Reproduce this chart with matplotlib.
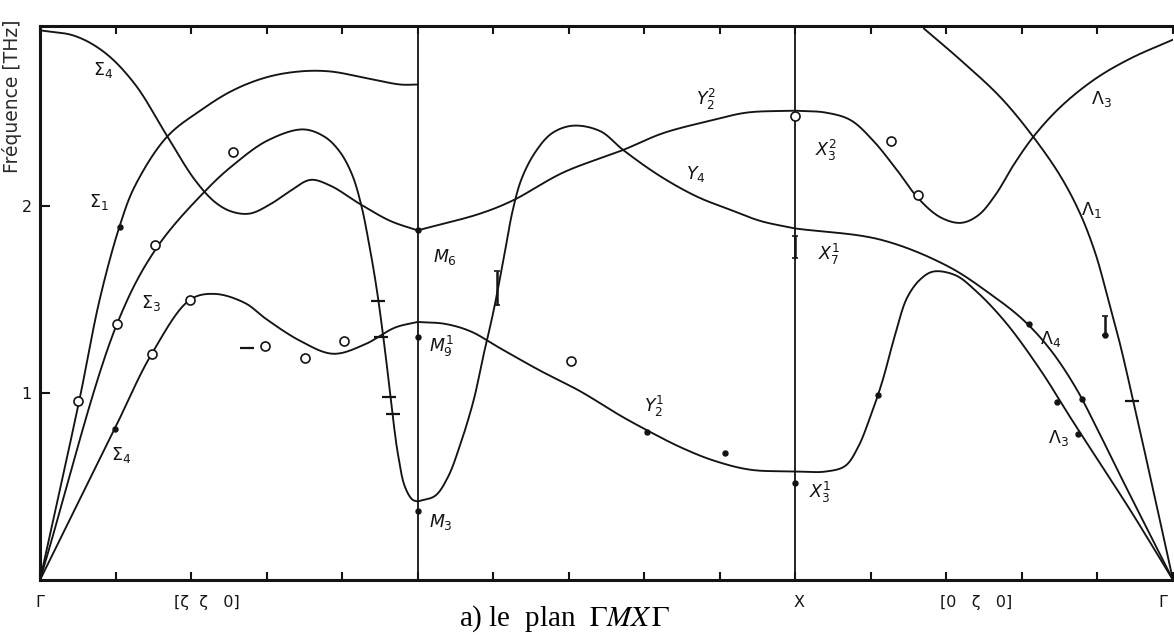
import numpy as np
import matplotlib
matplotlib.use("Agg")
import matplotlib.pyplot as plt

plt.rcParams["font.family"] = ["DejaVu Sans"]
plt.rcParams["mathtext.fontset"] = "dejavusans"

# Reduced wave-vector coordinate along the path: Γ=0, M=5, X=10, Γ=15
path_ticks = list(range(0, 16))
sym_points = [5, 10]

# ---- dispersion branches (q, frequency in THz) ----
# Γ -> M  ([ζ ζ 0])
sigma4_top_q = [0, 0.46, 0.86, 1.26, 1.66, 2.05, 2.32, 2.54, 2.78, 3.05, 3.31, 3.58, 3.84, 4.24, 4.64, 5.0]
sigma4_top_f = [2.94, 2.91, 2.82, 2.65, 2.39, 2.14, 2.02, 1.97, 1.96, 2.01, 2.08, 2.14, 2.11, 2.01, 1.92, 1.87]

sigma1_q = [0, 0.52, 0.79, 1.06, 1.26, 1.68, 2.12, 2.56, 3.01, 3.44, 3.84, 4.37, 4.77, 5.0]
sigma1_f = [0, 0.96, 1.50, 1.90, 2.11, 2.37, 2.51, 2.62, 2.69, 2.72, 2.72, 2.68, 2.65, 2.65]

sigma3_q = [0, 1.02, 1.55, 2.21, 2.56, 3.01, 3.48, 3.77, 3.97, 4.13, 4.25, 4.36, 4.46,
            4.57, 4.66, 4.74, 4.83, 4.93, 5.0]
sigma3_f = [0, 1.37, 1.78, 2.09, 2.22, 2.35, 2.41, 2.37, 2.29, 2.17, 2.01, 1.79, 1.55,
            1.22, 0.91, 0.67, 0.50, 0.43, 0.42]

sigma4_low_q = [0, 0.99, 1.48, 1.99, 2.32, 2.72, 2.98, 3.44, 3.88, 4.30, 4.70, 5.0]
sigma4_low_f = [0, 0.81, 1.21, 1.50, 1.53, 1.48, 1.40, 1.28, 1.21, 1.26, 1.35, 1.38]

# M -> X
y22_q = [5.0, 5.83, 6.26, 6.93, 7.72, 8.25, 8.91, 9.36, 10.0]
y22_f = [1.87, 1.96, 2.03, 2.18, 2.30, 2.39, 2.46, 2.50, 2.51]

y4_q = [5.0, 5.23, 5.40, 5.56, 5.74, 5.87, 6.00, 6.13, 6.26, 6.38, 6.56, 6.78, 7.06,
        7.42, 7.72, 8.21, 8.70, 9.14, 9.54, 10.0]
y4_f = [0.42, 0.45, 0.55, 0.72, 0.96, 1.20, 1.43, 1.70, 1.98, 2.15, 2.29, 2.39, 2.43,
        2.40, 2.30, 2.16, 2.05, 1.98, 1.92, 1.88]

y21_q = [5.0, 5.36, 5.70, 6.09, 6.62, 7.15, 7.68, 8.04, 8.48, 8.91, 9.40, 10.0]
y21_f = [1.38, 1.37, 1.33, 1.24, 1.12, 1.01, 0.88, 0.80, 0.71, 0.64, 0.59, 0.58]

# X -> Γ  ([0 ζ 0])
x32_q = [10.0, 10.40, 10.73, 11.03, 11.35, 11.63, 11.92, 12.19, 12.42, 12.65, 12.89, 13.15,
         13.51, 13.97, 14.44, 15.0]
x32_f = [2.51, 2.50, 2.46, 2.35, 2.19, 2.04, 1.94, 1.91, 1.95, 2.06, 2.22, 2.37,
         2.53, 2.68, 2.79, 2.89]

lam1_q = [11.70, 12.19, 12.72, 13.15, 13.51, 13.77, 13.97, 14.13, 14.30, 14.50, 14.70, 15.0]
lam1_f = [2.95, 2.78, 2.58, 2.37, 2.16, 1.96, 1.75, 1.52, 1.26, 0.91, 0.55, 0]

lam4_q = [10.0, 11.13, 12.01, 12.58, 13.02, 13.38, 13.71, 13.97, 14.30, 15.0]
lam4_f = [1.88, 1.82, 1.68, 1.53, 1.39, 1.23, 1.03, 0.83, 0.56, 0]

lam3_q = [10.0, 10.40, 10.66, 10.83, 10.99, 11.15, 11.32, 11.48, 11.66, 11.83, 12.12,
          12.38, 12.78, 13.25, 13.64, 14.04, 14.44, 15.0]
lam3_f = [0.58, 0.58, 0.61, 0.71, 0.87, 1.06, 1.31, 1.51, 1.61, 1.65, 1.63,
          1.55, 1.38, 1.12, 0.87, 0.62, 0.37, 0]

# ---- measured points ----
open_q = [0.50, 1.02, 1.48, 1.52, 1.99, 2.56, 2.98, 3.51, 4.03, 7.03, 10.0, 11.26, 11.63]
open_f = [0.96, 1.37, 1.21, 1.79, 1.50, 2.29, 1.25, 1.19, 1.28, 1.17, 2.48, 2.35, 2.06]

filled_q = [0.99, 1.06, 5.0, 5.0, 5.0, 8.04, 9.07, 10.0, 11.09, 13.10, 13.47, 13.80, 13.74, 14.10]
filled_f = [0.81, 1.89, 1.87, 1.30, 0.37, 0.79, 0.68, 0.52, 0.99, 1.37, 0.95, 0.97, 0.78, 1.31]

err_q = [6.05, 10.0, 14.10]
err_f = [1.56, 1.78, 1.36]
err_df = [0.09, 0.06, 0.05]

dash_q = [4.47, 4.52, 4.62, 4.68, 14.46, 2.74]
dash_f = [1.49, 1.30, 0.98, 0.89, 0.96, 1.24]

# ---- branch labels ----
lab_text = [r"$\Sigma_4$", r"$\Sigma_1$", r"$\Sigma_3$", r"$\Sigma_4$", r"$M_6$", r"$M_9^1$",
            r"$M_3$", r"$Y_2^2$", r"$Y_4$", r"$Y_2^1$", r"$X_3^2$", r"$X_7^1$", r"$X_3^1$",
            r"$\Lambda_3$", r"$\Lambda_1$", r"$\Lambda_4$", r"$\Lambda_3$"]
lab_q = [0.83, 0.78, 1.47, 1.07, 5.36, 5.31, 5.31, 8.82, 8.68, 8.13, 10.41, 10.45, 10.33,
         14.05, 13.92, 13.38, 13.48]
lab_f = [2.73, 2.02, 1.48, 0.67, 1.73, 1.25, 0.31, 2.57, 2.17, 0.93, 2.30, 1.74, 0.47,
         2.57, 1.98, 1.29, 0.76]

path_text = ["Γ", "[ζ  ζ   0]", "X", "[0   ζ   0]", "Γ"]
path_pos = [0.0, 2.21, 10.05, 12.39, 14.86]

y_ticks = [1, 2]

# screen-like scaling used for the spline parameterisation
SX, SY = 75.5, 187.0


def smooth_branch(q, f, n=40):
    """Centripetal Catmull-Rom curve through the branch points."""
    P = np.column_stack([np.asarray(q, float) * SX, np.asarray(f, float) * SY])
    P = np.vstack([2 * P[0] - P[1], P, 2 * P[-1] - P[-2]])
    pts = []
    for i in range(1, len(P) - 2):
        p0, p1, p2, p3 = P[i - 1], P[i], P[i + 1], P[i + 2]
        t0 = 0.0
        t1 = t0 + max(np.linalg.norm(p1 - p0), 1e-6) ** 0.5
        t2 = t1 + max(np.linalg.norm(p2 - p1), 1e-6) ** 0.5
        t3 = t2 + max(np.linalg.norm(p3 - p2), 1e-6) ** 0.5
        t = np.linspace(t1, t2, n)[:, None]
        a1 = (t1 - t) / (t1 - t0) * p0 + (t - t0) / (t1 - t0) * p1
        a2 = (t2 - t) / (t2 - t1) * p1 + (t - t1) / (t2 - t1) * p2
        a3 = (t3 - t) / (t3 - t2) * p2 + (t - t2) / (t3 - t2) * p3
        b1 = (t2 - t) / (t2 - t0) * a1 + (t - t0) / (t2 - t0) * a2
        b2 = (t3 - t) / (t3 - t1) * a2 + (t - t1) / (t3 - t1) * a3
        c = (t2 - t) / (t2 - t1) * b1 + (t - t1) / (t2 - t1) * b2
        pts.append(c if i == len(P) - 3 else c[:-1])
    pts = np.vstack(pts)
    return pts[:, 0] / SX, pts[:, 1] / SY


W, H = 1174, 635
fig = plt.figure(figsize=(W / 100, H / 100), dpi=100)
ax = fig.add_axes([40 / W, 55 / H, (1173 - 40) / W, (580 - 26) / H])
ax.set_xlim(0, 15)
ax.set_ylim(0, 2.963)

ink = "#141414"

for q in sym_points:
    ax.axvline(q, color=ink, lw=1.3, zorder=2)

branches = [
    (sigma4_top_q, sigma4_top_f), (sigma1_q, sigma1_f), (sigma3_q, sigma3_f),
    (sigma4_low_q, sigma4_low_f), (y22_q, y22_f), (y4_q, y4_f), (y21_q, y21_f),
    (x32_q, x32_f), (lam1_q, lam1_f), (lam4_q, lam4_f), (lam3_q, lam3_f),
]
for bq, bf in branches:
    xs, ys = smooth_branch(bq, bf)
    ax.plot(xs, ys, color=ink, lw=1.35, solid_capstyle="round", zorder=3)

ax.plot(open_q, open_f, "o", mfc="white", mec=ink, ms=6.5, mew=1.2, zorder=5)
ax.plot(filled_q, filled_f, "o", color=ink, ms=3.6, zorder=5)
ax.errorbar(err_q, err_f, yerr=err_df, fmt="none", ecolor=ink, elinewidth=1.8,
            capsize=2.5, capthick=1.2, zorder=5)
ax.plot(dash_q, dash_f, "_", color=ink, ms=10, mew=1.6, zorder=5)

for t, q, f in zip(lab_text, lab_q, lab_f):
    ax.text(q, f, t, fontsize=12.5, color=ink, ha="center", va="center", zorder=6)

for t, q in zip(path_text, path_pos):
    ax.text(q, -0.123, t, fontsize=11.5, color=ink, ha="center", va="center",
            clip_on=False)

# frame
for side in ("left", "top", "bottom"):
    ax.spines[side].set_linewidth(2.2)
    ax.spines[side].set_color(ink)
ax.spines["right"].set_visible(False)

ax.set_xticks(path_ticks)
ax.tick_params(axis="x", direction="in", length=6, width=1.5, top=True, bottom=True,
               labelbottom=False, color=ink)
ax.set_yticks(y_ticks)
ax.set_yticklabels([str(v) for v in y_ticks])
ax.tick_params(axis="y", direction="in", length=7, width=1.5, labelsize=11.5, pad=6,
               right=False, color=ink, labelcolor=ink)

fig.text(12 / W, 1 - 96 / H, "Fréquence [THz]", rotation=90, fontsize=13.5,
         color="#2a2a2a", ha="center", va="center")
fig.text(565 / W, 1 - 626 / H, r"a) le  plan  $\Gamma\mathit{MX}\,\Gamma$",
         family="Liberation Serif", math_fontfamily="stix", fontsize=21,
         color="black", ha="center", va="baseline")

fig.savefig("out.png", dpi=100, facecolor="white")
